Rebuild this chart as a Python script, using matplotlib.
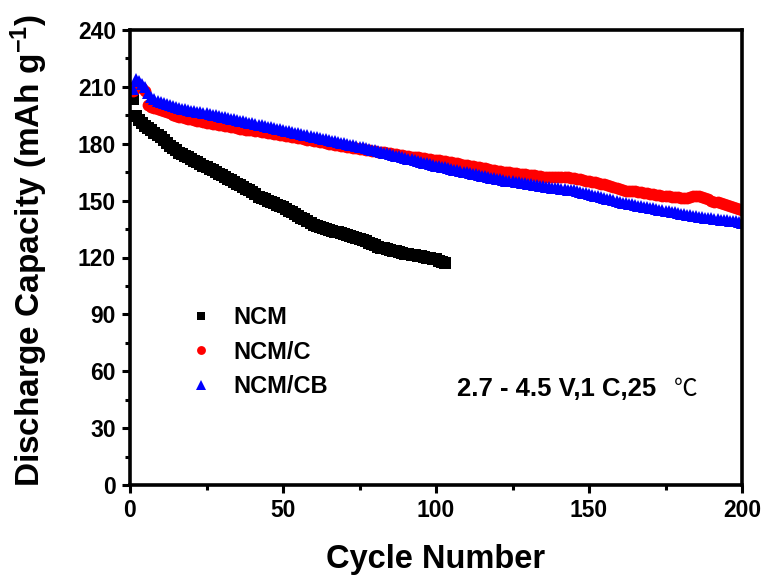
import numpy as np
import matplotlib
matplotlib.use("Agg")
import matplotlib.pyplot as plt
from matplotlib.ticker import MultipleLocator

# discharge capacity per cycle (mAh/g)
cap_ncm = [
    203.5, 194.5, 192.5, 191.0, 189.5, 188.2, 187.0, 185.8, 184.6, 183.5,
    182.0, 180.5, 179.0, 177.8, 176.5, 175.2, 174.5, 173.6, 172.8, 172.0,
    171.1, 170.2, 169.4, 168.5, 167.8, 166.9, 166.0, 165.2, 164.2, 163.4,
    162.5, 161.6, 160.8, 159.9, 159.0, 158.1, 157.2, 156.3, 155.4, 154.5,
    153.3, 152.1, 151.4, 150.6, 149.8, 149.1, 148.5, 147.8, 147.1, 146.5,
    145.6, 144.7, 143.8, 142.9, 142.0, 141.0, 140.1, 139.1, 138.1, 137.2,
    136.5, 136.0, 135.4, 134.9, 134.4, 134.0, 133.6, 133.2, 132.9, 132.5,
    132.0, 131.4, 130.8, 130.3, 129.8, 129.1, 128.5, 127.9, 127.2, 126.5,
    125.8, 125.2, 124.8, 124.4, 124.0, 123.6, 123.2, 122.9, 122.5, 122.1,
    121.8, 121.5, 121.2, 120.9, 120.6, 120.3, 120.0, 119.7, 119.4, 119.0,
    118.4, 117.8, 117.3,
]

cap_ncm_c = [
    208.0, 211.0, 210.5, 209.5, 208.0, 200.5, 199.5, 198.8, 198.2, 197.6,
    197.1, 196.6, 196.0, 195.4, 194.8, 194.2, 193.9, 193.5, 193.2, 192.8,
    192.5, 192.2, 191.8, 191.4, 191.1, 190.8, 190.6, 190.3, 190.0, 189.7,
    189.4, 189.1, 188.8, 188.6, 188.3, 188.0, 187.8, 187.5, 187.2, 187.0,
    186.7, 186.5, 186.2, 186.0, 185.7, 185.5, 185.2, 185.0, 184.7, 184.5,
    184.2, 183.9, 183.7, 183.4, 183.1, 182.8, 182.5, 182.2, 181.9, 181.6,
    181.3, 181.0, 180.7, 180.4, 180.1, 179.8, 179.5, 179.3, 179.0, 178.7,
    178.4, 178.2, 177.9, 177.7, 177.4, 177.2, 176.9, 176.7, 176.4, 176.2,
    175.9, 175.7, 175.4, 175.2, 174.9, 174.6, 174.4, 174.1, 173.9, 173.7,
    173.4, 173.2, 173.0, 172.8, 172.5, 172.3, 172.1, 171.9, 171.6, 171.4,
    171.2, 171.0, 170.7, 170.5, 170.2, 169.9, 169.6, 169.3, 169.0, 168.7,
    168.4, 168.1, 167.8, 167.6, 167.3, 167.0, 166.7, 166.4, 166.1, 165.8,
    165.5, 165.3, 165.1, 164.9, 164.7, 164.5, 164.3, 164.1, 163.9, 163.7,
    163.5, 163.3, 163.1, 162.9, 162.7, 162.5, 162.4, 162.3, 162.2, 162.2,
    162.3, 162.3, 162.2, 162.0, 161.8, 161.5, 161.2, 160.9, 160.6, 160.3,
    160.0, 159.7, 159.4, 159.0, 158.6, 158.1, 157.6, 157.0, 156.5, 156.0,
    155.6, 155.3, 155.1, 155.0, 155.0, 154.8, 154.5, 154.1, 153.8, 153.5,
    153.3, 153.1, 152.9, 152.7, 152.5, 152.3, 152.1, 151.9, 151.7, 151.6,
    151.5, 151.6, 151.9, 152.2, 152.4, 152.3, 152.0, 151.5, 150.8, 150.0,
    149.5, 149.1, 148.7, 148.3, 147.9, 147.4, 146.8, 146.2, 145.6, 145.0,
]

cap_ncm_cb = [
    209.0, 214.0, 213.0, 211.5, 210.0, 207.0, 204.5, 203.5, 202.8, 202.2,
    201.7, 201.2, 200.6, 200.0, 199.4, 198.8, 198.5, 198.1, 197.8, 197.5,
    197.2, 196.9, 196.6, 196.3, 196.0, 195.7, 195.3, 195.0, 194.6, 194.3,
    193.9, 193.6, 193.2, 192.9, 192.5, 192.2, 191.8, 191.5, 191.1, 190.8,
    190.4, 190.1, 189.7, 189.4, 189.0, 188.7, 188.3, 188.0, 187.6, 187.3,
    186.9, 186.6, 186.2, 185.9, 185.5, 185.2, 184.8, 184.5, 184.1, 183.8,
    183.4, 183.1, 182.7, 182.4, 182.0, 181.7, 181.3, 181.0, 180.6, 180.3,
    179.9, 179.6, 179.2, 178.9, 178.5, 178.1, 177.7, 177.3, 176.9, 176.5,
    176.1, 175.7, 175.3, 174.9, 174.5, 174.1, 173.7, 173.3, 172.9, 172.5,
    172.1, 171.7, 171.3, 170.9, 170.5, 170.1, 169.7, 169.3, 168.9, 168.5,
    168.2, 167.9, 167.5, 167.1, 166.8, 166.4, 166.0, 165.7, 165.3, 164.9,
    164.6, 164.2, 163.8, 163.5, 163.1, 162.8, 162.4, 162.1, 161.8, 161.5,
    161.2, 160.9, 160.6, 160.4, 160.1, 159.9, 159.6, 159.4, 159.1, 158.9,
    158.6, 158.4, 158.1, 157.9, 157.6, 157.4, 157.2, 156.9, 156.7, 156.5,
    156.3, 156.0, 155.8, 155.6, 155.4, 155.0, 154.6, 154.2, 153.8, 153.4,
    153.0, 152.6, 152.2, 151.8, 151.4, 151.0, 150.6, 150.2, 149.8, 149.4,
    149.0, 148.6, 148.3, 148.0, 147.7, 147.4, 147.1, 146.8, 146.5, 146.2,
    145.9, 145.6, 145.3, 145.0, 144.7, 144.4, 144.1, 143.8, 143.5, 143.2,
    142.9, 142.6, 142.3, 142.0, 141.7, 141.4, 141.2, 141.0, 140.8, 140.6,
    140.4, 140.2, 140.0, 139.8, 139.6, 139.4, 139.2, 139.0, 138.7, 138.4,
]

labels = ["NCM", "NCM/C", "NCM/CB"]

plt.rcParams['font.family'] = ['Liberation Sans', 'DejaVu Sans']
plt.rcParams['font.weight'] = 'bold'
plt.rcParams['mathtext.fontset'] = 'custom'
plt.rcParams['mathtext.rm'] = 'Liberation Sans:bold'
plt.rcParams['mathtext.it'] = 'Liberation Sans:bold'
plt.rcParams['mathtext.bf'] = 'Liberation Sans:bold'

fig = plt.figure(figsize=(7.66, 5.81), dpi=100)
ax = fig.add_axes([130/766, 1-485/581, 612/766, 455/581])

ms = 8.5
ax.plot(np.arange(1, len(cap_ncm)+1), cap_ncm, 's', color='black', ms=ms-0.5, mew=0, label=labels[0])
ax.plot(np.arange(1, len(cap_ncm_c)+1), cap_ncm_c, 'o', color='#ff0000', ms=ms, mew=0, label=labels[1])
ax.plot(np.arange(1, len(cap_ncm_cb)+1), cap_ncm_cb, '^', color='#0000ff', ms=ms+0.5, mew=0, label=labels[2])

ax.set_xlim(0, 200)
ax.set_ylim(0, 240)
ax.xaxis.set_major_locator(MultipleLocator(50))
ax.xaxis.set_minor_locator(MultipleLocator(25))
ax.yaxis.set_major_locator(MultipleLocator(30))
ax.yaxis.set_minor_locator(MultipleLocator(15))

for s in ax.spines.values():
    s.set_linewidth(2.6)
ax.tick_params(which='major', direction='out', length=6, width=2.2, labelsize=16.5, pad=4)
ax.tick_params(which='minor', direction='out', length=3.5, width=2.2)
ax.tick_params(top=False, right=False, which='both')

ax.set_xlabel('Cycle Number', fontsize=23.5, fontweight='bold')
ax.set_ylabel(r'Discharge Capacity (mAh g$^{-1}$)', fontsize=24, fontweight='bold')
ax.xaxis.set_label_coords(0.5, -0.13)
ax.yaxis.set_label_coords(-0.13, 0.515)

leg = ax.legend(loc='center left', bbox_to_anchor=(0.1, 0.292), frameon=False,
                fontsize=17, handlelength=0.8, handletextpad=1.0, labelspacing=0.5,
                markerscale=0.75, borderpad=0, borderaxespad=0)
for t in leg.get_texts():
    t.set_fontweight('bold')

ax.text(107, 47, '2.7 - 4.5 V,1 C,25', fontsize=18.5, fontweight='bold', va='baseline', ha='left')
ax.text(185.6, 47, '\u2103', fontsize=17, fontweight='normal', va='baseline', ha='right',
        family=['Noto Sans CJK SC', 'DejaVu Sans'])

fig.savefig('out.png', dpi=100)
